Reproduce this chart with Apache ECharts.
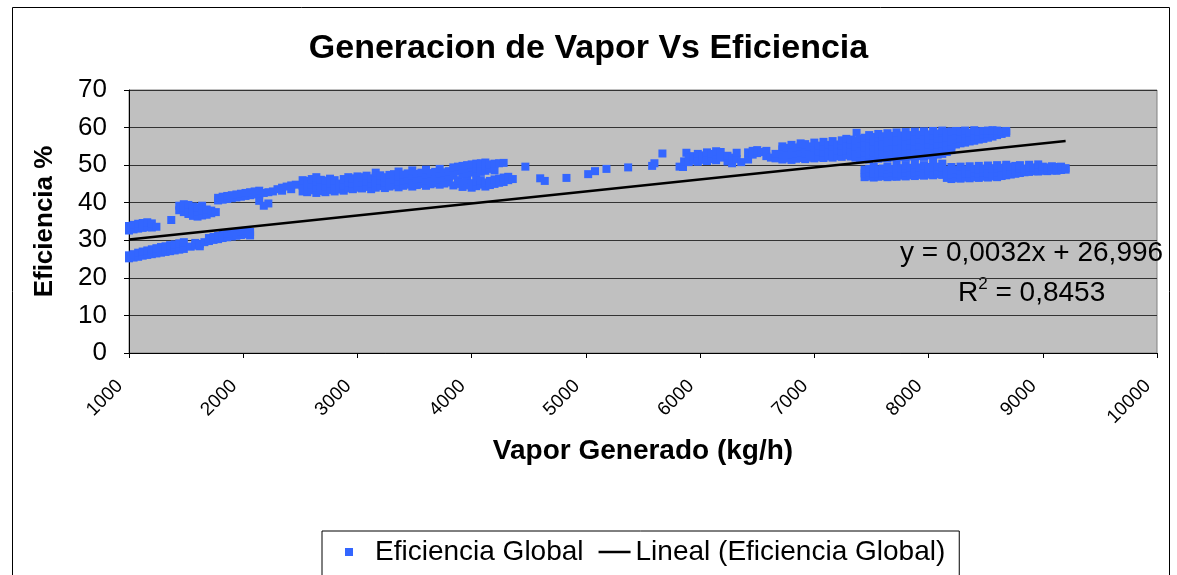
<!DOCTYPE html>
<html>
<head>
<meta charset="utf-8">
<script src="https://cdn.jsdelivr.net/npm/echarts@6/dist/echarts.min.js"></script>
<style>
html,body{margin:0;padding:0;background:#fff;}
#chart{width:1177px;height:575px;}
</style>
</head>
<body>
<div id="chart"></div>
<script>
// ---- Data (x = steam kg/h, list of efficiency % values at that x) ----
const lowerLeftBand = [
 [1000,[25.2,26.0]],[1040,[25.4,26.3]],[1080,[25.6,26.7]],[1120,[25.9,27.0]],[1160,[26.1,27.3]],
 [1200,[26.3,27.6]],[1240,[26.5,27.9]],[1280,[26.7,28.2]],[1320,[26.9,28.4]],[1360,[27.1,28.7]],
 [1400,[27.3,28.9]],[1440,[27.5,29.2]],[1480,[27.7,29.5]],[1540,[28.3]],[1580,[28.6,29.3]],
 [1620,[28.4,29.0]],[1660,[29.5]],[1700,[29.8,30.6]],[1740,[30.1,30.9]],[1780,[30.3,31.2]],
 [1820,[30.6,31.4]],[1860,[30.8,31.7]],[1900,[31.0,31.9]],[1940,[31.2,32.1]],[1980,[31.4,32.3]],
 [2020,[31.6,32.5]],[2060,[31.3,32.2]]
];
const upperLeftGroup = [
 [1000,[32.6,33.8]],[1040,[32.9,34.1]],[1080,[33.1,34.4]],[1120,[33.3,34.6]],[1160,[33.5,34.8]],
 [1200,[33.4,34.5]],[1240,[33.6]],[1370,[35.4]],
 [1440,[38.0,39.2]],[1480,[37.5,38.8,39.6]],[1520,[37.0,38.4,39.4]],[1560,[36.5,37.8,39.0]],
 [1600,[36.3,37.6,38.8]],[1640,[36.6,38.0,39.2]],[1680,[36.8,38.2]],[1720,[37.2,37.9]],[1760,[37.5]]
];
const risingBand = [
 [1780,[40.6,41.3]],[1820,[40.8,41.6]],[1860,[41.0,41.8]],[1900,[41.2,42.0]],[1940,[41.4,42.2]],
 [1980,[41.6,42.4]],[2020,[41.8,42.6]],[2060,[42.0,42.8]],[2100,[42.2,43.0]],[2140,[40.5,42.4,43.2]],
 [2180,[39.2,42.6]],[2220,[39.8,42.8]],[2260,[43.0]],[2300,[43.6]],[2340,[43.2,44.0]],[2380,[44.3]],
 [2420,[43.6,44.6]],[2460,[44.8]],
 [2520,[43.0,44.5,46.0]],[2560,[42.8,44.2,45.8]],[2600,[43.3,44.8,46.3]],[2640,[42.6,44.0,45.6,46.8]],
 [2680,[43.1,44.6,46.1]],[2720,[42.8,44.3,45.9]],[2760,[43.4,45.0,46.4]],[2800,[43.0,44.5,46.0]],
 [2840,[43.5,45.1]],[2880,[43.2,44.7,46.3]],[2920,[43.8,45.3,46.8]],[2960,[43.6,45.0,46.5]],
 [3000,[44.0,45.5,47.0]],[3040,[43.8,45.3,46.8]],[3080,[44.2,45.7,47.2]],[3120,[43.6,45.0,46.5]],
 [3160,[44.0,45.5,47.0,48.0]],[3200,[44.4,45.9,47.3]],[3240,[43.9,45.3,46.8]],[3280,[44.3,45.8,47.4]],
 [3320,[44.6,46.1,47.6]],[3360,[44.1,45.6,47.1,48.3]],[3400,[44.5,46.0,47.5]],[3440,[44.8,46.3,47.8]],
 [3480,[44.3,45.8,47.3,48.6]],[3520,[44.7,46.2,47.7]],[3560,[45.0,46.5,48.0]],[3600,[44.5,46.0,47.5,48.8]],
 [3640,[44.9,46.4,47.9]],[3680,[45.2,46.7,48.2]],[3720,[44.8,46.3,47.8,49.0]],[3760,[45.1,46.6,48.1]],
 [3800,[45.4,46.9,48.4]],[3840,[44.6,47.2,48.7,49.4]],[3880,[45.0,46.0,48.3,49.6]],
 [3920,[44.2,45.5,47.5,48.8,49.8]],[3960,[44.6,45.8,47.8,49.1,50.0]],[4000,[44.0,45.2,48.0,49.3,50.2]],
 [4040,[44.4,45.6,47.6,49.0,50.4]],[4080,[44.8,46.0,48.2,49.5,50.5]],[4120,[44.3,45.4,48.5,49.8,50.7]],
 [4160,[44.7,45.8,49.0,50.2]],[4200,[45.0,46.2,48.6,50.4]],[4240,[45.3,46.4,50.5]],[4280,[45.5,46.7,50.6]],
 [4320,[46.0,46.9]],[4360,[46.3]]
];
const sparseMiddle = [
 [4470,[49.6]],[4600,[46.5]],[4640,[45.8]],[4830,[46.6]],[5020,[47.6]],[5080,[48.4]],[5180,[49.0]],
 [5370,[49.4]],[5580,[49.8]],[5600,[50.5]],[5670,[53.1]],[5820,[49.6]],[5850,[49.5]],[5860,[51.0]],[5880,[53.3]],
 [5900,[50.8,52.0]],[5940,[51.2,52.4]],[5980,[50.9,52.2,53.0]],[6020,[51.4,52.6]],[6060,[51.1,52.8,53.4]],
 [6100,[51.6,53.0]],[6140,[51.3,52.8,53.7]],[6180,[52.0,53.5]],[6240,[51.0,52.5]],[6280,[50.5,52.0]],
 [6320,[51.6,53.3]],[6360,[50.8]],[6420,[51.5,53.4]],[6460,[52.8,53.8]],[6500,[53.2,54.0]],[6540,[53.5]],
 [6580,[52.4,53.8]],[6620,[52.0]],[6660,[51.8,53.0]]
];
const upperRightBand = [
 [6720,[51.5,52.8,54.2,55.0]],[6760,[51.8,53.2,54.6]],[6800,[51.4,52.9,54.3,55.4]],[6840,[51.7,53.1,54.7]],
 [6880,[51.9,53.4,55.0,55.8]],[6920,[51.6,53.0,54.5,55.6]],[6960,[52.0,53.5,55.0]],[7000,[51.8,53.2,54.8,56.0]],
 [7040,[52.1,53.6,55.2]],[7080,[51.9,53.4,54.9,56.2]],[7120,[52.3,53.8,55.4]],[7160,[52.0,53.5,55.0,56.4]],
 [7200,[52.4,53.9,55.5]],[7240,[52.2,53.7,55.2,56.6]],[7280,[52.6,54.0,55.7,57.0]],[7320,[52.3,53.8,55.4,56.8]],
 [7360,[52.0,53.5,55.0,56.5]],[7370,[58.6]],
 [7400,[51.6,53.0,54.4,55.8,57.0]],[7440,[51.8,53.3,54.7,56.0,57.3]],[7480,[51.5,52.9,54.3,55.7,57.1,58.0]],
 [7520,[51.9,53.4,54.8,56.2,57.5]],[7560,[51.7,53.1,54.5,55.9,57.3,58.3]],[7600,[52.0,53.5,54.9,56.3,57.7]],
 [7640,[51.8,53.2,54.7,56.1,57.5,58.5]],[7680,[52.1,53.6,55.0,56.4,57.8]],[7720,[51.9,53.4,54.8,56.2,57.6,58.7]],
 [7760,[52.2,53.7,55.1,56.5,57.9]],[7800,[52.0,53.5,54.9,56.3,57.7,58.8]],[7840,[52.3,53.8,55.2,56.6,58.0]],
 [7880,[52.1,53.6,55.0,56.4,57.8,58.9]],[7920,[52.4,53.9,55.3,56.7,58.1]],[7960,[52.2,53.7,55.1,56.5,57.9,59.0]],
 [8000,[52.6,54.0,55.4,56.8,58.2]],[8040,[52.4,53.8,55.2,56.6,58.0,59.1]],[8080,[52.8,54.2,55.6,57.0,58.4]],
 [8120,[53.0,54.4,55.8,57.2,58.6,59.2]],[8160,[53.5,54.8,56.0,57.4,58.8]],[8200,[54.0,55.2,56.4,57.6,59.0]],
 [8240,[55.5,56.7,57.9,59.1]],[8280,[55.8,57.0,58.2,59.0]],[8320,[56.0,57.2,58.4,59.2]],[8360,[56.3,57.5,58.6]],
 [8400,[56.5,57.7,58.8,59.3]],[8440,[56.8,57.9,59.0]],[8480,[57.0,58.1,59.1]],[8520,[57.3,58.3,59.2]],
 [8560,[57.6,58.5,59.3]],[8600,[58.0,58.8,59.2]],[8640,[58.3,59.0]],[8680,[58.6,59.1]]
];
const lowerRightBand = [
 [7440,[46.8,47.8,48.8]],[7480,[47.0,48.0,49.0]],[7520,[46.7,47.7,48.7,49.5]],[7560,[46.9,47.9,48.9]],
 [7600,[47.1,48.1,49.1]],[7640,[46.8,47.8,48.8,49.6]],[7680,[47.0,48.0,49.0]],[7720,[46.9,47.9,48.9,49.8]],
 [7760,[47.2,48.2,49.2]],[7800,[47.0,48.0,49.0,50.0]],[7840,[47.3,48.3,49.3]],[7880,[47.1,48.1,49.1,50.2]],
 [7920,[47.4,48.4,49.4]],[7960,[47.2,48.2,49.2,50.0]],[8000,[47.5,48.5,49.5]],[8040,[47.3,48.3,49.3,50.3]],
 [8080,[47.6,48.6,49.6]],[8120,[47.4,48.4,49.4,50.4]],[8160,[46.6,47.7,48.7]],[8200,[46.3,47.5,48.5,49.5]],
 [8240,[46.6,47.8,48.8]],[8280,[46.4,47.6,48.6,49.6]],[8320,[46.7,47.9,48.9]],[8360,[46.5,47.7,48.7,49.7]],
 [8400,[46.8,48.0,49.0]],[8440,[46.6,47.8,48.8,49.8]],[8480,[46.9,48.1,49.1]],[8520,[46.7,47.9,48.9,49.9]],
 [8560,[47.0,48.2,49.2]],[8600,[46.8,48.0,49.0,50.0]],[8640,[47.1,48.3,49.3]],[8680,[47.3,48.5,49.5,50.1]],
 [8720,[47.5,48.7,49.6]],[8760,[47.7,48.9,49.8]],[8800,[47.9,49.0,50.0]],[8840,[48.1,49.1]],
 [8880,[48.2,49.3,50.1]],[8920,[48.4,49.4]],[8960,[48.3,49.5,50.2]],[9000,[48.5,49.6]],[9040,[48.4,49.4]],
 [9080,[48.6,49.7]],[9120,[48.5,49.5]],[9160,[48.7,49.6]],[9200,[48.8,49.2]]
];
// Trend line end points (Excel linear trendline)
const trendLine = [[1000, 30.2], [9200, 56.4]];
const equationText = 'y = 0,0032x + 26,996';
const r2Value = '0,8453';
const xTicks = {min: 1000, max: 10000, step: 1000};
const yTicks = {min: 0, max: 70, step: 10};

const groups = [lowerLeftBand, upperLeftGroup, risingBand, sparseMiddle, upperRightBand, lowerRightBand];
const points = [];
groups.forEach(g => g.forEach(([x, ys]) => ys.forEach(y => points.push([x, y]))));

const FONT = '"Liberation Sans", Arial, sans-serif';
const chart = echarts.init(document.getElementById('chart'), null, {renderer: 'canvas'});
chart.setOption({
  backgroundColor: '#ffffff',
  animation: false,
  title: {
    text: 'Generacion de Vapor Vs Eficiencia',
    left: 'center', top: 27,
    textStyle: {fontFamily: FONT, fontSize: 34, fontWeight: 'bold', color: '#000'}
  },
  grid: {left: 129, right: 20, top: 90, bottom: 222, show: true, backgroundColor: '#C0C0C0', borderColor: '#808080', borderWidth: 1},
  xAxis: {
    type: 'value', min: xTicks.min, max: xTicks.max, interval: xTicks.step,
    name: 'Vapor Generado (kg/h)', nameLocation: 'middle', nameGap: 84,
    nameTextStyle: {fontFamily: FONT, fontSize: 28, fontWeight: 'bold', color: '#000'},
    axisLine: {onZero: false, lineStyle: {color: '#000', width: 1}},
    axisTick: {show: true, length: 5, lineStyle: {color: '#000'}},
    splitLine: {show: false},
    axisLabel: {rotate: 45, fontFamily: FONT, fontSize: 19, color: '#000', margin: 21,
      padding: [0, 13, 0, 0], formatter: v => String(v)}
  },
  yAxis: {
    type: 'value', min: yTicks.min, max: yTicks.max, interval: yTicks.step,
    name: 'Eficiencia %', nameLocation: 'middle', nameGap: 71,
    nameTextStyle: {fontFamily: FONT, fontSize: 26, fontWeight: 'bold', color: '#000'},
    axisLine: {show: true, lineStyle: {color: '#000', width: 1}},
    axisTick: {show: true, length: 5, lineStyle: {color: '#000'}},
    splitLine: {show: true, lineStyle: {color: '#333', width: 1}},
    axisLabel: {fontFamily: FONT, fontSize: 26, color: '#000', margin: 22}
  },
  legend: {
    left: 322, top: 531, orient: 'horizontal',
    padding: [7, 14, 14, 16], itemGap: 15, itemWidth: 32, itemHeight: 8,
    borderColor: '#000', borderWidth: 1, backgroundColor: '#fff',
    textStyle: {fontFamily: FONT, fontSize: 28, color: '#000'},
    data: [
      {name: 'Eficiencia Global', icon: 'path://M0,5L0,5M8.75,0L18.75,0L18.75,10L8.75,10ZM40,5L40,5'},
      {name: 'Lineal (Eficiencia Global)', icon: 'path://M0,0L32,0L32,2.5L0,2.5Z', itemStyle: {color: '#000'}}
    ]
  },
  graphic: [
    {type: 'rect', left: 10, top: 5, shape: {width: 1157, height: 600}, style: {fill: 'none', stroke: '#000', lineWidth: 1}, silent: true, z: -1},
    {type: 'text', left: 900, top: 239, style: {text: equationText, font: '28px ' + FONT, fill: '#000'}},
    {type: 'text', left: 958, top: 276, style: {
      text: '{n|R}{s|2}{n| = ' + r2Value + '}',
      rich: {n: {font: '28px ' + FONT, fill: '#000', verticalAlign: 'bottom'}, s: {font: '17px ' + FONT, fill: '#000', verticalAlign: 'top', padding: [0,0,14,0]}}
    }}
  ],
  series: [
    {name: 'Eficiencia Global', type: 'scatter', symbol: 'rect', symbolSize: 8,
     itemStyle: {color: '#3366FF', opacity: 1}, data: points, z: 2},
    {name: 'Lineal (Eficiencia Global)', type: 'line', data: trendLine, showSymbol: false, symbol: 'none',
     lineStyle: {color: '#000', width: 2.5}, itemStyle: {color: '#000'}, z: 3}
  ]
});
</script>
</body>
</html>
